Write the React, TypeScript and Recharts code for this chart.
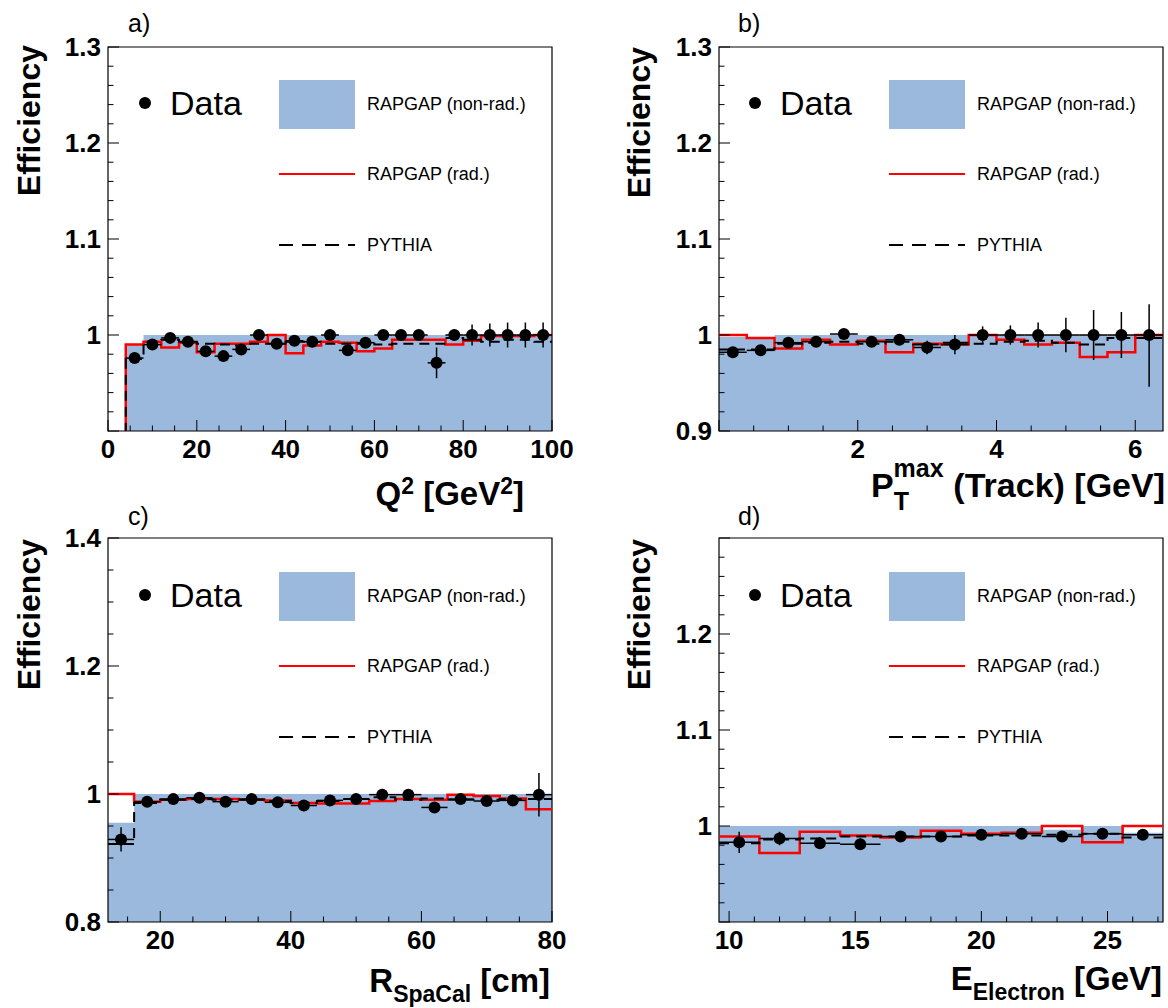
import React from "react";
import {
  Area,
  ComposedChart,
  ErrorBar,
  Legend,
  Line,
  ReferenceArea,
  Scatter,
  XAxis,
  YAxis,
} from "recharts";

const BLUE = "#9ab9dc";
const RED = "#ff0000";
const FONT = "'Liberation Sans', Arial, Helvetica, sans-serif";

// a) Q^2 [GeV^2]
const q2Edges = [0, 4, 8, 12, 16, 20, 24, 28, 32, 36, 40, 44, 48, 52, 56, 60, 64, 68, 72, 76, 80, 84, 88, 92, 96, 100];
const q2NonRad = [0, 0.99, 1, 1, 1, 1, 1, 1, 1, 1, 1, 1, 1, 1, 1, 1, 1, 1, 1, 1, 1, 1, 1, 1, 1];
const q2Rad = [0, 0.99, 0.993, 0.987, 0.992, 0.982, 0.991, 0.991, 0.993, 1.0, 0.981, 0.989, 0.993, 0.992, 0.983, 0.986, 0.995, 0.995, 0.995, 0.99, 0.994, 0.999, 0.999, 0.999, 1.0];
const q2Pythia = [0, 0.975, 0.993, 0.995, 0.993, 0.991, 0.99, 0.989, 0.991, 0.991, 0.993, 0.993, 0.991, 0.991, 0.991, 0.99, 0.991, 0.991, 0.991, 0.997, 0.995, 0.993, 0.995, 0.995, 0.993];
const q2DataX = [6, 10, 14, 18, 22, 26, 30, 34, 38, 42, 46, 50, 54, 58, 62, 66, 70, 74, 78, 82, 86, 90, 94, 98];
const q2DataY = [0.976, 0.99, 0.997, 0.993, 0.983, 0.978, 0.985, 1.0, 0.991, 0.994, 0.993, 1.0, 0.984, 0.992, 1.0, 1.0, 1.0, 0.971, 1.0, 1.0, 1.0, 1.0, 1.0, 1.0];
const q2DataErr = [0.003, 0.003, 0.003, 0.003, 0.003, 0.004, 0.004, 0.003, 0.003, 0.003, 0.003, 0.003, 0.006, 0.004, 0.003, 0.003, 0.003, 0.016, 0.006, 0.011, 0.012, 0.013, 0.013, 0.013];

// b) P_T^max (Track) [GeV]
const ptEdges = [0, 0.4, 0.8, 1.2, 1.6, 2.0, 2.4, 2.8, 3.2, 3.6, 4.0, 4.4, 4.8, 5.2, 5.6, 6.0, 6.4];
const ptNonRad = [0.998, 0.998, 1, 1, 1, 1, 1, 1, 1, 1, 1, 1, 1, 1, 1, 1];
const ptRad = [1.0, 0.997, 0.986, 0.995, 0.99, 0.994, 0.982, 0.991, 0.99, 1.0, 0.995, 0.99, 0.992, 0.977, 0.982, 1.0];
const ptPythia = [0.985, 0.985, 0.991, 0.992, 0.993, 0.991, 0.993, 0.99, 0.992, 0.991, 0.993, 0.994, 0.992, 0.99, 0.997, 0.997];
const ptDataX = [0.2, 0.6, 1.0, 1.4, 1.8, 2.2, 2.6, 3.0, 3.4, 3.8, 4.2, 4.6, 5.0, 5.4, 5.8, 6.2];
const ptDataY = [0.982, 0.984, 0.992, 0.993, 1.001, 0.993, 0.995, 0.987, 0.99, 1.0, 1.0, 1.0, 1.0, 1.0, 1.0, 1.0];
const ptDataErr: (number | [number, number])[] = [0.004, 0.004, 0.003, 0.003, 0.003, 0.003, 0.003, 0.007, 0.01, 0.009, 0.01, 0.013, 0.018, 0.026, 0.024, [0.054, 0.032]];

// c) R_SpaCal [cm]
const rEdges = [12, 16, 20, 24, 28, 32, 36, 40, 44, 48, 52, 56, 60, 64, 68, 72, 76, 80];
const rNonRad = [0.955, 1, 1, 1, 1, 1, 1, 1, 1, 1, 1, 1, 1, 1, 1, 1, 1];
const rRad = [1.0, 0.988, 0.991, 0.992, 0.992, 0.991, 0.99, 0.986, 0.985, 0.985, 0.989, 0.992, 0.991, 0.999, 0.997, 0.993, 0.976];
const rPythia = [0.922, 0.986, 0.991, 0.992, 0.991, 0.991, 0.989, 0.986, 0.989, 0.992, 0.995, 0.991, 0.993, 0.991, 0.991, 0.992, 0.992];
const rDataX = [14, 18, 22, 26, 30, 34, 38, 42, 46, 50, 54, 58, 62, 66, 70, 74, 78];
const rDataY = [0.929, 0.988, 0.992, 0.994, 0.988, 0.992, 0.987, 0.982, 0.99, 0.992, 0.999, 0.999, 0.979, 0.992, 0.989, 0.99, 0.999];
const rDataErr = [0.019, 0.003, 0.003, 0.003, 0.003, 0.003, 0.003, 0.003, 0.003, 0.003, 0.003, 0.003, 0.004, 0.003, 0.003, 0.003, 0.034];

// d) E_Electron [GeV]
const eEdges = [9.6, 11.2, 12.8, 14.4, 16.0, 17.6, 19.2, 20.8, 22.4, 24.0, 25.6, 27.2];
const eNonRad = [1, 1, 1, 1, 1, 1, 1, 1, 0.996, 1, 0.993];
const eRad = [0.989, 0.972, 0.994, 0.99, 0.988, 0.995, 0.992, 0.993, 1.0, 0.983, 1.0];
const ePythia = [0.982, 0.986, 0.987, 0.989, 0.989, 0.989, 0.99, 0.99, 0.991, 0.992, 0.988];
const eDataX = [10.4, 12.0, 13.6, 15.2, 16.8, 18.4, 20.0, 21.6, 23.2, 24.8, 26.4];
const eDataY = [0.983, 0.987, 0.982, 0.981, 0.989, 0.989, 0.991, 0.992, 0.989, 0.992, 0.991];
const eDataErr = [0.011, 0.007, 0.006, 0.006, 0.002, 0.002, 0.002, 0.002, 0.002, 0.002, 0.002];

// axis ticks (major, with labels) and minor tick steps
const q2XMajor = [0, 20, 40, 60, 80, 100];
const q2XLabels = ["0", "20", "40", "60", "80", "100"];
const ptXMajor = [0, 2, 4, 6];
const ptXLabels = ["", "2", "4", "6"];
const rXMajor = [20, 40, 60, 80];
const rXLabels = ["20", "40", "60", "80"];
const eXMajor = [10, 15, 20, 25];
const eXLabels = ["10", "15", "20", "25"];
const effMajor = [0.9, 1, 1.1, 1.2, 1.3];
const effLabelsA = ["", "1", "1.1", "1.2", "1.3"];
const effLabelsB = ["0.9", "1", "1.1", "1.2", "1.3"];
const effLabelsD = ["", "1", "1.1", "1.2", ""];
const effMajorC = [0.8, 1, 1.2, 1.4];
const effLabelsC = ["0.8", "1", "1.2", "1.4"];

const minorTicks = (lo: number, hi: number, step: number) => {
  const out: number[] = [];
  let k = Math.ceil(lo / step - 1e-9);
  while (k * step <= hi + 1e-9) {
    out.push(+(k * step).toFixed(4));
    k++;
  }
  return out;
};

const histRows = (edges: number[], blue: number[], red: number[], py: number[]) =>
  edges.map((x, i) => {
    const j = Math.min(i, edges.length - 2);
    return { x, blue: blue[j], red: red[j], py: py[j] };
  });

const pointRows = (xs: number[], ys: number[], errs: (number | [number, number])[], half: number) =>
  xs.map((x, i) => ({ x, y: ys[i], ex: half, ey: errs[i] }));

const xTick = (majors: number[], labels: string[]) => (p: any) => {
  const v = p.payload.value;
  const i = majors.findIndex((m) => Math.abs(m - v) < 1e-6);
  const len = i >= 0 ? 11 : 5.5;
  return (
    <g>
      <line x1={p.x} x2={p.x} y1={p.y} y2={p.y - len} stroke="#000" strokeWidth={1} />
      {i >= 0 && labels[i] ? (
        <text x={p.x} y={p.y + 27} textAnchor="middle" fontFamily={FONT} fontWeight="bold" fontSize={26} fill="#000">
          {labels[i]}
        </text>
      ) : null}
    </g>
  );
};

const yTick = (majors: number[], labels: string[]) => (p: any) => {
  const v = p.payload.value;
  const i = majors.findIndex((m) => Math.abs(m - v) < 1e-6);
  const len = i >= 0 ? 11 : 5.5;
  return (
    <g>
      <line x1={p.x} x2={p.x + len} y1={p.y} y2={p.y} stroke="#000" strokeWidth={1} />
      {i >= 0 && labels[i] ? (
        <text x={p.x - 7} y={p.y + 9} textAnchor="end" fontFamily={FONT} fontWeight="bold" fontSize={26} fill="#000">
          {labels[i]}
        </text>
      ) : null}
    </g>
  );
};

const LegendBox = () => (
  <svg width={430} height={190} style={{ overflow: "visible", display: "block" }}>
    <circle cx={15} cy={28} r={6} fill="#000" />
    <text x={40} y={40} fontFamily={FONT} fontSize={34} fill="#000">Data</text>
    <rect x={149} y={5} width={76} height={49} fill={BLUE} />
    <text x={237} y={35} fontFamily={FONT} fontSize={18} fill="#000">RAPGAP (non-rad.)</text>
    <line x1={149} x2={225} y1={99} y2={99} stroke={RED} strokeWidth={2} />
    <text x={237} y={105} fontFamily={FONT} fontSize={18} fill="#000">RAPGAP (rad.)</text>
    <line x1={149} x2={225} y1={170} y2={170} stroke="#000" strokeWidth={2} strokeDasharray="14 9" />
    <text x={237} y={176} fontFamily={FONT} fontSize={18} fill="#000">PYTHIA</text>
  </svg>
);

type Panel = {
  left: number;
  top: number;
  height: number;
  margin: { top: number; right: number; bottom: number; left: number };
  edges: number[];
  nonRad: number[];
  rad: number[];
  pythia: number[];
  dataX: number[];
  dataY: number[];
  dataErr: (number | [number, number])[];
  half: number;
  xDomain: [number, number];
  yDomain: [number, number];
  xMajor: number[];
  xLabels: string[];
  xMinor: number;
  yMajor: number[];
  yLabels: string[];
  yMinor: number;
  letter: string;
  letterPos: [number, number];
  effPos: [number, number];
  xTitle: React.ReactNode;
  legendPos: [number, number];
};

const YTitle = ({ p }: { p: Panel }) => (
  <g>
    <text
      transform="rotate(-90)"
      x={-p.effPos[1]}
      y={p.effPos[0]}
      textAnchor="end"
      fontFamily={FONT}
      fontWeight="bold"
      fontSize={32}
      fill="#000"
    >
      Efficiency
    </text>
    <text x={p.letterPos[0]} y={p.letterPos[1]} fontFamily={FONT} fontSize={25} fill="#000">
      {p.letter}
    </text>
  </g>
);

const titleProps = { fontFamily: FONT, fontWeight: "bold" as const, fontSize: 33, fill: "#000", textAnchor: "end" as const };

const q2Title = (
  <text x={524} y={505} {...titleProps}>
    Q<tspan fontSize={23} dy={-11}>2</tspan>
    <tspan dy={11}> [GeV</tspan>
    <tspan fontSize={23} dy={-11}>2</tspan>
    <tspan dy={11}>]</tspan>
  </text>
);
const ptTitle = (
  <text x={581} y={497} {...titleProps} fontSize={34}>
    P<tspan fontSize={25} dy={-20}>max</tspan>
    <tspan fontSize={25} dx={-50} dy={33}>T</tspan>
    <tspan dx={35} dy={-13}> (Track) [GeV]</tspan>
  </text>
);
const rTitle = (
  <text x={550} y={492} {...titleProps}>
    R<tspan fontSize={23} dy={10}>SpaCal</tspan>
    <tspan dy={-10}> [cm]</tspan>
  </text>
);
const eTitle = (
  <text x={578} y={490} {...titleProps}>
    E<tspan fontSize={23} dy={10}>Electron</tspan>
    <tspan dy={-10}> [GeV]</tspan>
  </text>
);

const XTitle = ({ node }: { node: React.ReactNode }) => <g>{node}</g>;

const EffPanel = ({ p }: { p: Panel }) => {
  const rows = histRows(p.edges, p.nonRad, p.rad, p.pythia);
  const pts = pointRows(p.dataX, p.dataY, p.dataErr, p.half);
  const xTicks = Array.from(new Set([...p.xMajor, ...minorTicks(p.xDomain[0], p.xDomain[1], p.xMinor)])).sort((a, b) => a - b);
  const yTicks = Array.from(new Set([...p.yMajor, ...minorTicks(p.yDomain[0], p.yDomain[1], p.yMinor)])).sort((a, b) => a - b);
  const m = { ...p.margin, left: p.margin.left - 1, bottom: p.margin.bottom - 1 };
  return (
    <div style={{ position: "absolute", left: p.left, top: p.top }}>
      <ComposedChart width={584} height={p.height} data={rows} margin={m}>
        <Area type="stepAfter" dataKey="blue" fill={BLUE} fillOpacity={1} stroke="none" isAnimationActive={false} />
        <Line type="stepAfter" dataKey="red" stroke={RED} strokeWidth={2.5} dot={false} isAnimationActive={false} />
        <Line type="stepAfter" dataKey="py" stroke="#000" strokeWidth={2} strokeDasharray="10 6" dot={false} isAnimationActive={false} />
        <Scatter
          data={pts}
          dataKey="y"
          isAnimationActive={false}
          shape={(s: any) => <circle cx={s.cx} cy={s.cy} r={6} fill="#000" />}
        >
          <ErrorBar dataKey="ey" direction="y" width={0} stroke="#000" strokeWidth={1.5} />
          <ErrorBar dataKey="ex" direction="x" width={0} stroke="#000" strokeWidth={1.5} />
        </Scatter>
        <XAxis
          type="number"
          dataKey="x"
          domain={p.xDomain}
          allowDataOverflow
          ticks={xTicks}
          interval={0}
          height={1}
          tickSize={0}
          tickMargin={0}
          axisLine={false}
          tickLine={false}
          tick={xTick(p.xMajor, p.xLabels)}
          label={<XTitle node={p.xTitle} />}
        />
        <YAxis
          type="number"
          domain={p.yDomain}
          allowDataOverflow
          ticks={yTicks}
          interval={0}
          width={1}
          tickSize={0}
          tickMargin={0}
          axisLine={false}
          tickLine={false}
          tick={yTick(p.yMajor, p.yLabels)}
          label={<YTitle p={p} />}
        />
        <ReferenceArea
          x1={p.xDomain[0]}
          x2={p.xDomain[1]}
          y1={p.yDomain[0]}
          y2={p.yDomain[1]}
          fill="none"
          fillOpacity={0}
          stroke="#000"
          strokeWidth={1.2}
        />
        <Legend
          layout="vertical"
          align="center"
          verticalAlign="middle"
          wrapperStyle={{ left: p.legendPos[0], top: p.legendPos[1], width: 430, height: 190 }}
          content={() => <LegendBox />}
        />
      </ComposedChart>
    </div>
  );
};

const panels: Panel[] = [
  {
    left: 0, top: 0, height: 520,
    margin: { top: 47, right: 32, bottom: 89, left: 108 },
    edges: q2Edges, nonRad: q2NonRad, rad: q2Rad, pythia: q2Pythia,
    dataX: q2DataX, dataY: q2DataY, dataErr: q2DataErr, half: 2,
    xDomain: [0, 100], yDomain: [0.9, 1.3],
    xMajor: q2XMajor, xLabels: q2XLabels, xMinor: 5,
    yMajor: effMajor, yLabels: effLabelsA, yMinor: 0.02,
    letter: "a)", letterPos: [128, 32], effPos: [40, 45],
    xTitle: q2Title, legendPos: [130, 75],
  },
  {
    left: 584, top: 0, height: 520,
    margin: { top: 47, right: 5, bottom: 89, left: 135 },
    edges: ptEdges, nonRad: ptNonRad, rad: ptRad, pythia: ptPythia,
    dataX: ptDataX, dataY: ptDataY, dataErr: ptDataErr, half: 0.2,
    xDomain: [0, 6.4], yDomain: [0.9, 1.3],
    xMajor: ptXMajor, xLabels: ptXLabels, xMinor: 0.5,
    yMajor: effMajor, yLabels: effLabelsB, yMinor: 0.02,
    letter: "b)", letterPos: [154, 32], effPos: [66, 47],
    xTitle: ptTitle, legendPos: [156, 75],
  },
  {
    left: 0, top: 500, height: 508,
    margin: { top: 38, right: 32, bottom: 86, left: 108 },
    edges: rEdges, nonRad: rNonRad, rad: rRad, pythia: rPythia,
    dataX: rDataX, dataY: rDataY, dataErr: rDataErr, half: 2,
    xDomain: [12, 80], yDomain: [0.8, 1.4],
    xMajor: rXMajor, xLabels: rXLabels, xMinor: 5,
    yMajor: effMajorC, yLabels: effLabelsC, yMinor: 0.05,
    letter: "c)", letterPos: [128, 25], effPos: [40, 39],
    xTitle: rTitle, legendPos: [130, 67],
  },
  {
    left: 584, top: 500, height: 508,
    margin: { top: 38, right: 5, bottom: 86, left: 135 },
    edges: eEdges, nonRad: eNonRad, rad: eRad, pythia: ePythia,
    dataX: eDataX, dataY: eDataY, dataErr: eDataErr, half: 0.8,
    xDomain: [9.6, 27.2], yDomain: [0.9, 1.3],
    xMajor: eXMajor, xLabels: eXLabels, xMinor: 1,
    yMajor: effMajor, yLabels: effLabelsD, yMinor: 0.02,
    letter: "d)", letterPos: [154, 25], effPos: [66, 39],
    xTitle: eTitle, legendPos: [156, 67],
  },
];

export default function App() {
  return (
    <div style={{ position: "absolute", left: 0, top: 0, width: 1168, height: 1008, background: "#fff" }}>
      {panels.map((p, i) => (
        <EffPanel key={i} p={p} />
      ))}
    </div>
  );
}
